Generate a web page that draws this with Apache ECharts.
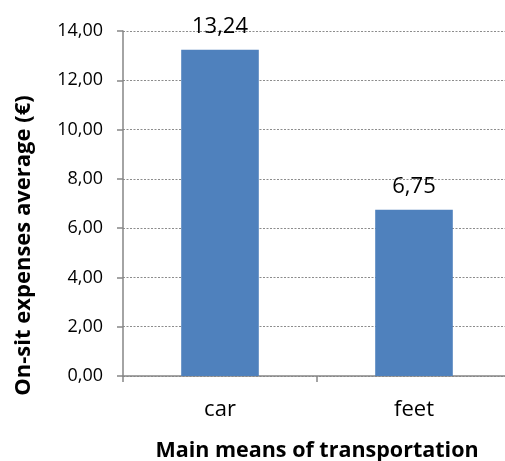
<!DOCTYPE html>
<html>
<head>
<meta charset="utf-8">
<script src="https://cdn.jsdelivr.net/npm/echarts@6/dist/echarts.min.js"></script>
<style>
  html, body { margin: 0; padding: 0; background: #fff; }
  #chart { width: 505px; height: 461px; }
</style>
</head>
<body>
<div id="chart"></div>
<script>
// Average on-site expenses by main means of transportation
const categories = ['car', 'feet'];
const expenses = [13.24, 6.75];
const yTicks = { min: 0, max: 14, step: 2 };

const fmt = v => v.toFixed(2).replace('.', ',');
const fontFamily = 'Open Sans, Liberation Sans, sans-serif';

const chart = echarts.init(document.getElementById('chart'));
chart.setOption({
  animation: false,
  grid: { left: 123, width: 388, top: 31, bottom: 85, outerBoundsMode: 'none', containLabel: false },
  xAxis: {
    type: 'category',
    data: categories,
    name: 'Main means of transportation',
    nameLocation: 'middle',
    nameGap: 64,
    nameTextStyle: { fontFamily, fontSize: 21.5, fontWeight: 'bold', color: '#000' },
    axisLine: { lineStyle: { color: '#868686', width: 1.5 } },
    axisTick: { show: true, length: 6, lineStyle: { color: '#868686', width: 1.5 } },
    axisLabel: { fontFamily, fontSize: 22, color: '#000', margin: 23 }
  },
  yAxis: {
    type: 'value',
    min: yTicks.min,
    max: yTicks.max,
    interval: yTicks.step,
    name: 'On-sit expenses average (€)',
    nameLocation: 'middle',
    nameGap: 88,
    nameTextStyle: { fontFamily, fontSize: 22, fontWeight: 'bold', color: '#000', padding: [0, 84, 0, 0] },
    axisLine: { show: true, lineStyle: { color: '#868686', width: 1.5 } },
    axisTick: { show: true, length: 6, lineStyle: { color: '#868686', width: 1.5 } },
    axisLabel: { fontFamily, fontSize: 18, color: '#000', margin: 20, formatter: v => fmt(v) },
    splitLine: { lineStyle: { color: '#8c8c8c', type: [2, 1.5], width: 1 } }
  },
  series: [{
    type: 'bar',
    data: expenses,
    barWidth: '40%',
    itemStyle: { color: '#4f81bd' },
    label: {
      show: true,
      position: 'top',
      distance: 12,
      fontFamily,
      fontSize: 22,
      color: '#000',
      formatter: p => fmt(p.value)
    }
  }]
});
</script>
</body>
</html>
